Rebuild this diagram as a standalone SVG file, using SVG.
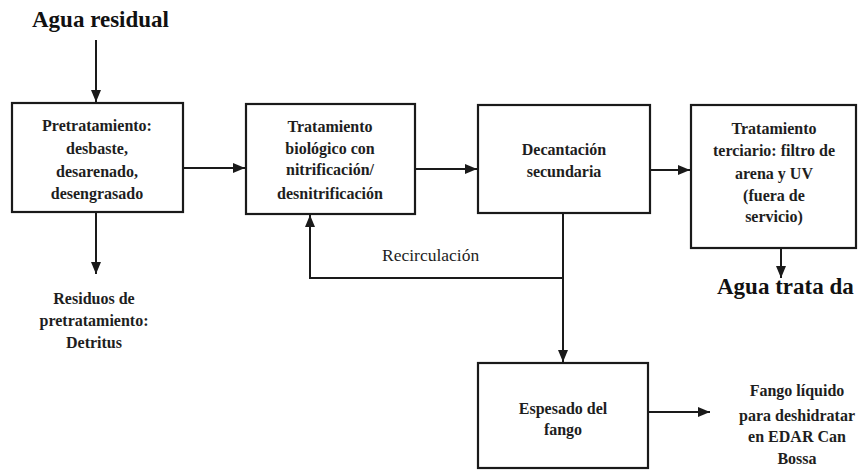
<svg xmlns="http://www.w3.org/2000/svg" width="858" height="470" viewBox="0 0 858 470">
<defs>
<marker id="arr" markerUnits="userSpaceOnUse" markerWidth="12" markerHeight="10" refX="12" refY="5" orient="auto">
<path d="M0,0 L12,5 L0,10 z" fill="#1a1a1a"/>
</marker>
<style>
.box{fill:#fff;stroke:#1a1a1a;stroke-width:2.2}
text{font-family:"Times New Roman",Tinos,"Liberation Serif","Noto Serif","DejaVu Serif",FreeSerif,Times,serif}
.t{font-size:16px;font-weight:bold;fill:#1e1e1e;text-anchor:middle}
.big{font-size:23px;font-weight:bold;fill:#111}
.lab{font-size:17.5px;fill:#1e1e1e}
.c{fill:none;stroke:#1a1a1a;stroke-width:2}
</style>
</defs>
<rect width="858" height="470" fill="#fff"/>
<g id="connectors">
<line class="c" x1="96" y1="40" x2="96" y2="102" marker-end="url(#arr)"/>
<line class="c" x1="183" y1="168" x2="245" y2="168" marker-end="url(#arr)"/>
<line class="c" x1="96" y1="212" x2="96" y2="274" marker-end="url(#arr)"/>
<line class="c" x1="415" y1="169" x2="477" y2="169" marker-end="url(#arr)"/>
<line class="c" x1="650" y1="170" x2="690" y2="170" marker-end="url(#arr)"/>
<line class="c" x1="781" y1="248" x2="781" y2="278" marker-end="url(#arr)"/>
<line class="c" x1="563" y1="213" x2="563" y2="362" marker-end="url(#arr)"/>
<polyline class="c" points="563,278 310,278 310,215" marker-end="url(#arr)"/>
<line class="c" x1="648" y1="412" x2="710" y2="412" marker-end="url(#arr)"/>
</g>
<g id="agua-residual">
<text class="big" x="32" y="27">Agua residual</text>
</g>
<g id="pretratamiento">
<rect class="box" x="12" y="103" width="171" height="109"/>
<text class="t" x="97" y="131">Pretratamiento:</text>
<text class="t" x="97" y="154">desbaste,</text>
<text class="t" x="97" y="177">desarenado,</text>
<text class="t" x="97" y="199">desengrasado</text>
</g>
<g id="residuos">
<text class="t" x="94" y="304">Residuos de</text>
<text class="t" x="94" y="326">pretratamiento:</text>
<text class="t" x="94" y="348">Detritus</text>
</g>
<g id="biologico">
<rect class="box" x="246" y="104" width="169" height="110"/>
<text class="t" x="330" y="132">Tratamiento</text>
<text class="t" x="330" y="154">biológico con</text>
<text class="t" x="330" y="175">nitrificación/</text>
<text class="t" x="330" y="199">desnitrificación</text>
</g>
<g id="decantacion">
<rect class="box" x="478" y="105" width="172" height="108"/>
<text class="t" x="564" y="155">Decantación</text>
<text class="t" x="564" y="177">secundaria</text>
</g>
<g id="terciario">
<rect class="box" x="691" y="105" width="165" height="143"/>
<text class="t" x="774" y="134">Tratamiento</text>
<text class="t" x="774" y="156">terciario:  filtro de</text>
<text class="t" x="774" y="179">arena y UV</text>
<text class="t" x="774" y="201">(fuera de</text>
<text class="t" x="774" y="222">servicio)</text>
</g>
<g id="agua-tratada">
<text class="big" x="717" y="294">Agua trata da</text>
</g>
<g id="recirculacion">
<text class="lab" x="382" y="261">Recirculación</text>
</g>
<g id="espesado">
<rect class="box" x="478" y="363" width="170" height="105"/>
<text class="t" x="563" y="414">Espesado del</text>
<text class="t" x="563" y="435">fango</text>
</g>
<g id="fango-liquido">
<text class="t" x="797" y="396">Fango líquido</text>
<text class="t" x="797" y="421">para deshidratar</text>
<text class="t" x="797" y="442">en EDAR Can</text>
<text class="t" x="797" y="464">Bossa</text>
</g>
</svg>
